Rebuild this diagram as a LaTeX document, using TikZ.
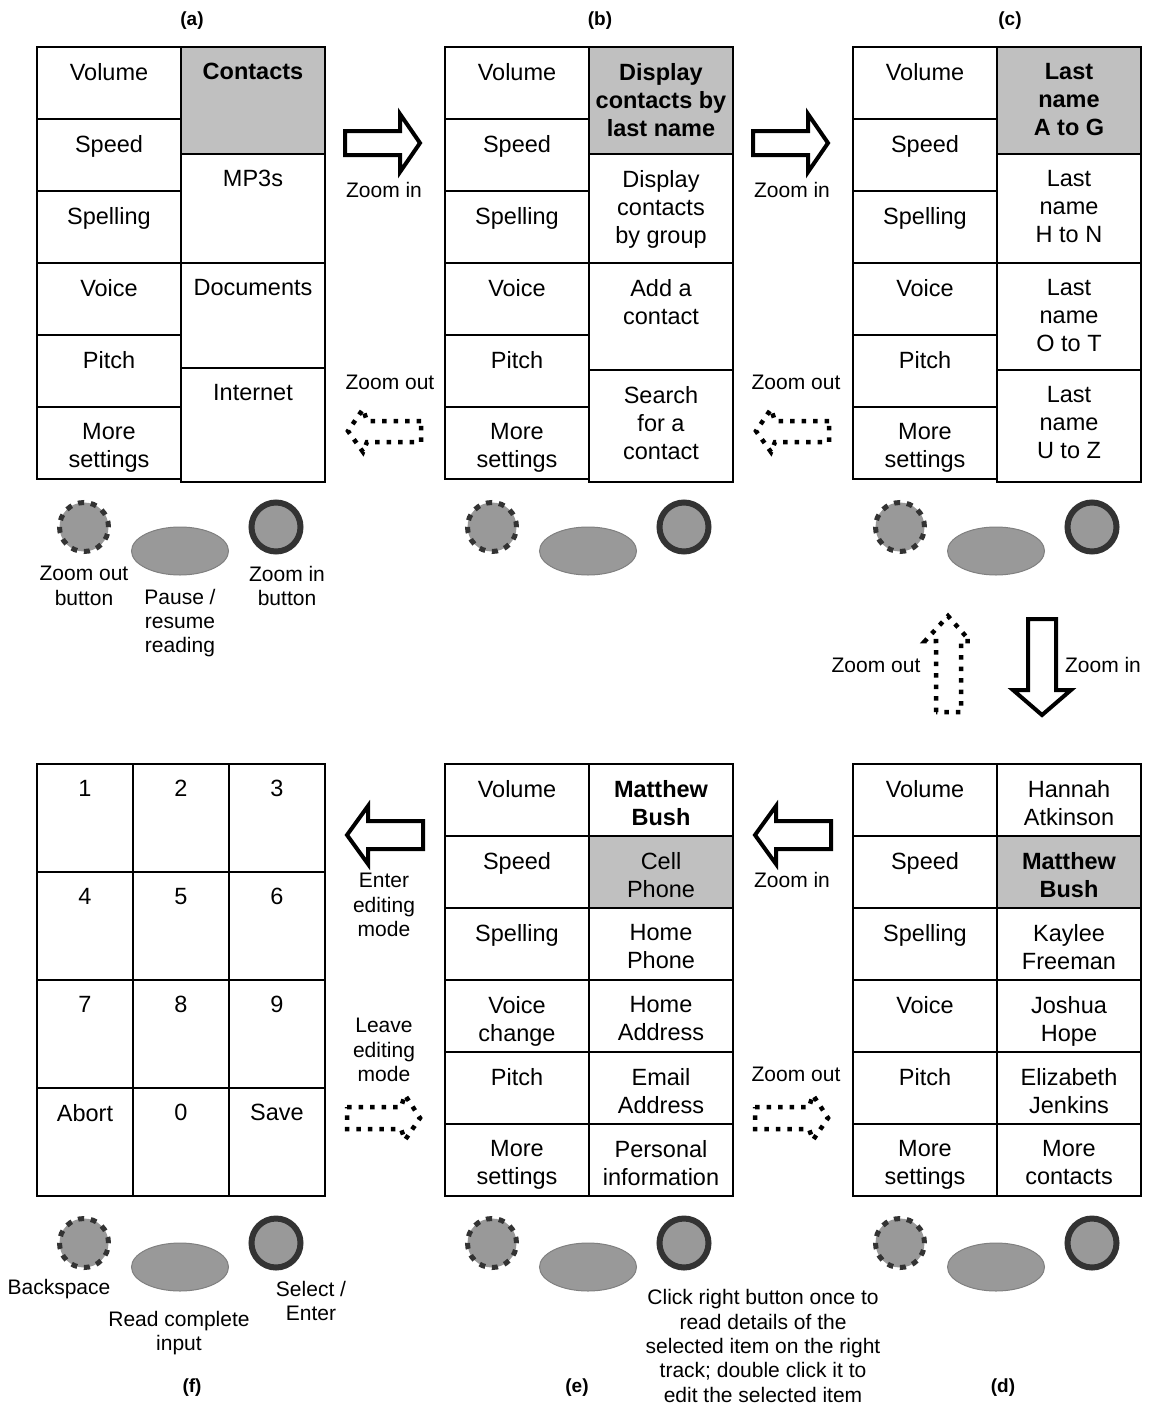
\documentclass[tikz,border=0pt]{standalone}
\usepackage{fontspec}
\setmainfont{Liberation Sans}
\usetikzlibrary{shapes.geometric}

\definecolor{selgray}{HTML}{C0C0C0}
\definecolor{btngray}{HTML}{999999}
\definecolor{btndark}{HTML}{333333}
\definecolor{rimgray}{HTML}{808080}

\tikzset{
  cell/.style={draw, line width=2pt, fill=white, minimum width=144pt,
    minimum height=72pt, inner sep=0pt, anchor=north west},
  celltext/.style={anchor=north, inner sep=0pt, align=center,
    font=\fontsize{23.5}{28}\selectfont},
  boldtext/.style={celltext, font=\fontsize{23.5}{28}\selectfont\bfseries},
  lbl/.style={align=center, inner sep=0pt, font=\fontsize{21}{24.4}\selectfont},
  tag/.style={inner sep=0pt, font=\fontsize{19}{22}\selectfont\bfseries},
  outbtn/.style={circle, fill=btngray, draw=btndark, line width=5pt,
    dash pattern=on 6pt off 6.8pt, minimum size=49pt, inner sep=0pt},
  inbtn/.style={circle, fill=btngray, draw=btndark, line width=6pt,
    minimum size=49pt, inner sep=0pt},
  midbtn/.style={ellipse, fill=btngray, draw=rimgray, line width=1pt,
    minimum width=97pt, minimum height=48pt, inner sep=0pt},
  zin/.style={draw, fill=white, line width=4pt, line join=miter},
  zout/.style={draw, line width=4.5pt, dash pattern=on 4.5pt off 7pt}
}

\begin{document}
\begin{tikzpicture}[x=1pt, y=-1pt]
  \useasboundingbox (0,0) rectangle (1151,1416);

  % settings track (left column)
  \foreach \pn/\dx/\dy in {a/0/0, b/408/0, c/816/0, d/816/717} {
    \foreach \txt [count=\i] in {Volume, Speed, Spelling, Voice, Pitch, More\\settings} {
      \node[cell] (\pn-l\i) at ({36+\dx},{46+\dy+72*(\i-1)}) {};
      \node[celltext] (\pn-l\i-t) at ([yshift=-17pt]\pn-l\i.north) {\txt};
    }
  }
  \foreach \txt [count=\i] in {Volume, Speed, Spelling, Voice\\change, Pitch, More\\settings} {
    \node[cell] (e-l\i) at (444,{763+72*(\i-1)}) {};
    \node[celltext] (e-l\i-t) at ([yshift=-17pt]e-l\i.north) {\txt};
  }

  % right tracks
  \foreach \y/\h/\fc/\ts/\txt [count=\i] in {46/107/selgray/boldtext/Contacts,
      153/109/white/celltext/MP3s, 262/105/white/celltext/Documents,
      367/114/white/celltext/Internet} {
    \node[cell, fill=\fc, minimum height=\h] (a-r\i) at (180,\y) {};
    \node[\ts] (a-r\i-t) at ([yshift=-17pt]a-r\i.north) {\txt};
  }
  \foreach \y/\h/\fc/\ts/\txt [count=\i] in {46/107/selgray/boldtext/Display\\contacts by\\last name,
      153/109/white/celltext/Display\\contacts\\by group,
      262/107/white/celltext/Add a\\contact,
      369/112/white/celltext/Search\\for a\\contact} {
    \node[cell, fill=\fc, minimum height=\h] (b-r\i) at (588,\y) {};
    \node[\ts] (b-r\i-t) at ([yshift=-17pt]b-r\i.north) {\txt};
  }
  \foreach \y/\h/\fc/\ts/\txt [count=\i] in {46/107/selgray/boldtext/Last\\name\\A to G,
      153/109/white/celltext/Last\\name\\H to N,
      262/107/white/celltext/Last\\name\\O to T,
      369/112/white/celltext/Last\\name\\U to Z} {
    \node[cell, fill=\fc, minimum height=\h] (c-r\i) at (996,\y) {};
    \node[\ts] (c-r\i-t) at ([yshift=-17pt]c-r\i.north) {\txt};
  }
  \foreach \fc/\ts/\txt [count=\i] in {white/celltext/Hannah\\Atkinson,
      selgray/boldtext/Matthew\\Bush, white/celltext/Kaylee\\Freeman,
      white/celltext/Joshua\\Hope, white/celltext/Elizabeth\\Jenkins,
      white/celltext/More\\contacts} {
    \node[cell, fill=\fc] (d-r\i) at (996,{763+72*(\i-1)}) {};
    \node[\ts] (d-r\i-t) at ([yshift=-17pt]d-r\i.north) {\txt};
  }
  \foreach \fc/\ts/\txt [count=\i] in {white/boldtext/Matthew\\Bush,
      selgray/celltext/Cell\\Phone, white/celltext/Home\\Phone,
      white/celltext/Home\\Address, white/celltext/Email\\Address,
      white/celltext/Personal\\information} {
    \node[cell, fill=\fc] (e-r\i) at (588,{763+72*(\i-1)}) {};
    \node[\ts] (e-r\i-t) at ([yshift=-17pt]e-r\i.north) {\txt};
  }

  % keypad (f)
  \foreach \txt [count=\i from 0] in {1,2,3,4,5,6,7,8,9,Abort,0,Save} {
    \pgfmathtruncatemacro{\c}{mod(\i,3)}
    \pgfmathtruncatemacro{\r}{int(\i/3)}
    \node[cell, minimum width=96pt, minimum height=108pt] (f-k\i) at ({36+96*\c},{763+108*\r}) {};
    \node[celltext] (f-k\i-t) at ([yshift=-17pt]f-k\i.north) {\txt};
  }

  % buttons
  \foreach \pn/\dx/\dy in {a/0/0, b/408/0, c/816/0, f/0/716, e/408/716, d/816/716} {
    \node[outbtn] (\pn-out) at ({84+\dx},{527+\dy}) {};
    \node[midbtn] (\pn-mid) at ({180+\dx},{551+\dy}) {};
    \node[inbtn] (\pn-in) at ({276+\dx},{527+\dy}) {};
  }

  % button labels
  \node[lbl] (a-outlbl) at (84,586) {Zoom out\\button};
  \node[lbl] (a-midlbl) at (180,623) {Pause /\\resume\\reading};
  \node[lbl] (a-inlbl) at (287,586) {Zoom in\\button};
  \node[lbl] (f-outlbl) at (59,1289) {Backspace};
  \node[lbl] (f-midlbl) at (179,1333) {Read complete\\input};
  \node[lbl] (f-inlbl) at (311,1301) {Select /\\Enter};
  \node[lbl] (e-inlbl) at (763,1346) {Click right button once to\\read details of the\\selected item on the right\\track; double click it to\\edit the selected item};

  % panel tags
  \node[tag] (tag-a) at (192,21) {(a)};
  \node[tag] (tag-b) at (600,21) {(b)};
  \node[tag] (tag-c) at (1010,21) {(c)};
  \node[tag] (tag-f) at (192,1388) {(f)};
  \node[tag] (tag-e) at (577,1388) {(e)};
  \node[tag] (tag-d) at (1003,1388) {(d)};

  % arrows between the top panels
  \foreach \dx in {0,408} {
    \draw[zin, shift={(\dx,0)}] (345,131) -- (400,131) -- (400,114) -- (420,143)
      -- (400,172) -- (400,155) -- (345,155) -- cycle;
    \draw[zout, shift={(\dx,0)}] (421,421) -- (367,421) -- (363,409) -- (348,431)
      -- (363,452) -- (367,442) -- (421,442) -- cycle;
  }
  \node[lbl] (ab-in) at (384,190) {Zoom in};
  \node[lbl] (ab-out) at (390,382) {Zoom out};
  \node[lbl] (bc-in) at (792,190) {Zoom in};
  \node[lbl] (bc-out) at (796,382) {Zoom out};

  % arrows between (c) and (d)
  \draw[zout] (936,712) -- (936,641) -- (925,641) -- (948,616) -- (970,641)
    -- (961,641) -- (961,712) -- cycle;
  \draw[zin] (1028,619) -- (1056,619) -- (1056,690) -- (1071,690) -- (1042,715)
    -- (1013,690) -- (1028,690) -- cycle;
  \node[lbl] (cd-out) at (876,665) {Zoom out};
  \node[lbl] (cd-in) at (1103,665) {Zoom in};

  % arrows between the bottom panels
  \foreach \dx in {0,408} {
    \draw[zin, shift={(\dx,0)}] (423,821) -- (368,821) -- (368,806) -- (347,835)
      -- (368,864) -- (368,849) -- (423,849) -- cycle;
    \draw[zout, shift={(\dx,0)}] (347,1107) -- (401,1107) -- (405,1095) -- (420,1118)
      -- (405,1140) -- (401,1129) -- (347,1129) -- cycle;
  }
  \node[lbl] (fe-in) at (384,905) {Enter\\editing\\mode};
  \node[lbl] (fe-out) at (384,1050) {Leave\\editing\\mode};
  \node[lbl] (ed-in) at (792,880) {Zoom in};
  \node[lbl] (ed-out) at (796,1074) {Zoom out};
\end{tikzpicture}
\end{document}
